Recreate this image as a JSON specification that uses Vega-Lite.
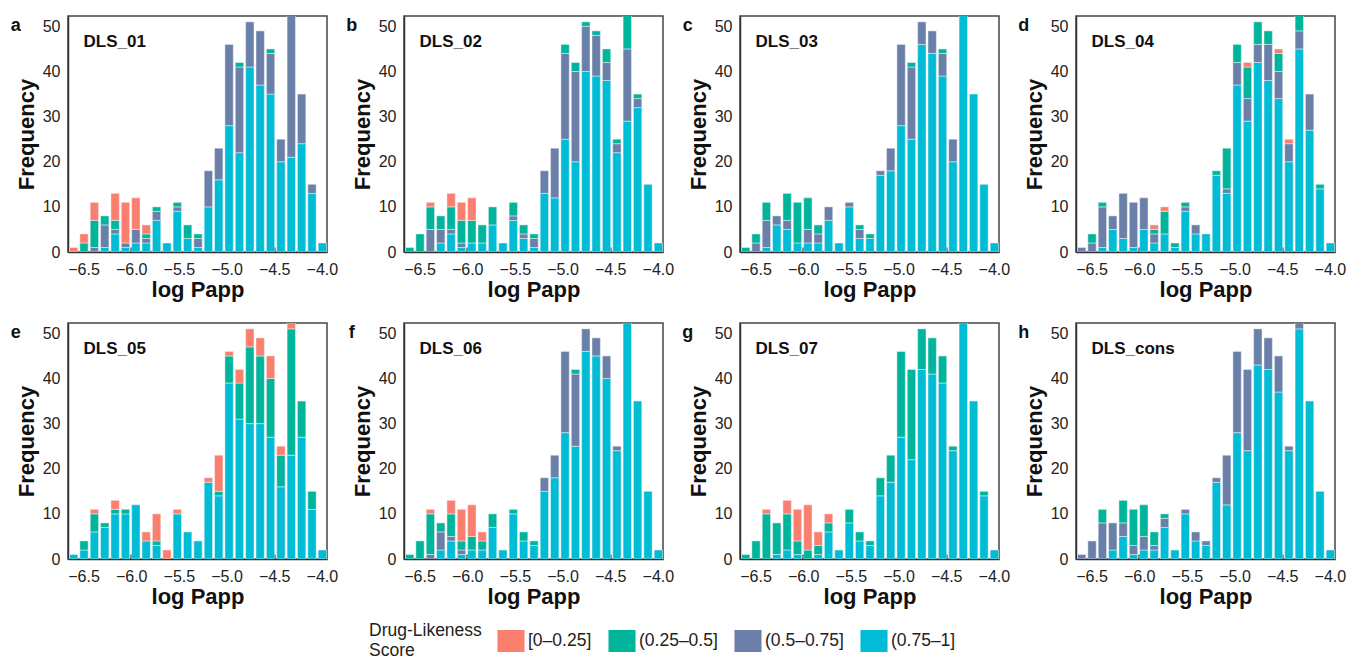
{
  "$schema": "https://vega.github.io/schema/vega-lite/v6.json",
  "padding": {"left": 10, "top": 15, "right": 5, "bottom": 5},
  "background": "white",
  "datasets": {
    "bins": [
      {"b": 1, "lo": -6.6630, "hi": -6.5543}, {"b": 2, "lo": -6.5543, "hi": -6.4457},
      {"b": 3, "lo": -6.4457, "hi": -6.3370}, {"b": 4, "lo": -6.3370, "hi": -6.2283},
      {"b": 5, "lo": -6.2283, "hi": -6.1196}, {"b": 6, "lo": -6.1196, "hi": -6.0109},
      {"b": 7, "lo": -6.0109, "hi": -5.9022}, {"b": 8, "lo": -5.9022, "hi": -5.7935},
      {"b": 9, "lo": -5.7935, "hi": -5.6848}, {"b": 10, "lo": -5.6848, "hi": -5.5761},
      {"b": 11, "lo": -5.5761, "hi": -5.4674}, {"b": 12, "lo": -5.4674, "hi": -5.3587},
      {"b": 13, "lo": -5.3587, "hi": -5.2500}, {"b": 14, "lo": -5.2500, "hi": -5.1413},
      {"b": 15, "lo": -5.1413, "hi": -5.0326}, {"b": 16, "lo": -5.0326, "hi": -4.9239},
      {"b": 17, "lo": -4.9239, "hi": -4.8152}, {"b": 18, "lo": -4.8152, "hi": -4.7065},
      {"b": 19, "lo": -4.7065, "hi": -4.5978}, {"b": 20, "lo": -4.5978, "hi": -4.4891},
      {"b": 21, "lo": -4.4891, "hi": -4.3804}, {"b": 22, "lo": -4.3804, "hi": -4.2717},
      {"b": 23, "lo": -4.2717, "hi": -4.1630}, {"b": 24, "lo": -4.1630, "hi": -4.0543},
      {"b": 25, "lo": -4.0543, "hi": -3.9457}
    ],
    "panels": [
      {"p": "DLS_01", "l": "a"}, {"p": "DLS_02", "l": "b"}, {"p": "DLS_03", "l": "c"}, {"p": "DLS_04", "l": "d"},
      {"p": "DLS_05", "l": "e"}, {"p": "DLS_06", "l": "f"}, {"p": "DLS_07", "l": "g"}, {"p": "DLS_cons", "l": "h"}
    ],
    "counts": [
      {"p": "DLS_01", "b": 1, "v4": 1},
      {"p": "DLS_01", "b": 2, "v3": 2, "v4": 2},
      {"p": "DLS_01", "b": 3, "v2": 1, "v3": 6, "v4": 4},
      {"p": "DLS_01", "b": 4, "v1": 1, "v2": 5, "v3": 2},
      {"p": "DLS_01", "b": 5, "v1": 4, "v2": 1, "v3": 2, "v4": 6},
      {"p": "DLS_01", "b": 6, "v1": 1, "v2": 1, "v4": 9},
      {"p": "DLS_01", "b": 7, "v1": 2, "v2": 3, "v4": 7},
      {"p": "DLS_01", "b": 8, "v1": 2, "v2": 1, "v3": 1, "v4": 2},
      {"p": "DLS_01", "b": 9, "v1": 7, "v2": 2, "v3": 1},
      {"p": "DLS_01", "b": 10, "v1": 2},
      {"p": "DLS_01", "b": 11, "v1": 9, "v2": 1, "v3": 1},
      {"p": "DLS_01", "b": 12, "v1": 3, "v3": 3},
      {"p": "DLS_01", "b": 13, "v1": 1, "v2": 2, "v3": 1},
      {"p": "DLS_01", "b": 14, "v1": 10, "v2": 8},
      {"p": "DLS_01", "b": 15, "v1": 16, "v2": 7},
      {"p": "DLS_01", "b": 16, "v1": 28, "v2": 18},
      {"p": "DLS_01", "b": 17, "v1": 22, "v2": 19, "v3": 1},
      {"p": "DLS_01", "b": 18, "v1": 41, "v2": 10},
      {"p": "DLS_01", "b": 19, "v1": 37, "v2": 12},
      {"p": "DLS_01", "b": 20, "v1": 35, "v2": 9, "v3": 1},
      {"p": "DLS_01", "b": 21, "v1": 20, "v2": 5},
      {"p": "DLS_01", "b": 22, "v1": 21, "v2": 32},
      {"p": "DLS_01", "b": 23, "v1": 24, "v2": 11},
      {"p": "DLS_01", "b": 24, "v1": 13, "v2": 2},
      {"p": "DLS_01", "b": 25, "v1": 2},

      {"p": "DLS_02", "b": 1, "v3": 1},
      {"p": "DLS_02", "b": 2, "v3": 4},
      {"p": "DLS_02", "b": 3, "v2": 5, "v3": 5, "v4": 1},
      {"p": "DLS_02", "b": 4, "v1": 2, "v2": 3, "v3": 3},
      {"p": "DLS_02", "b": 5, "v1": 4, "v2": 1, "v3": 5, "v4": 3},
      {"p": "DLS_02", "b": 6, "v1": 1, "v2": 1, "v3": 5, "v4": 4},
      {"p": "DLS_02", "b": 7, "v1": 2, "v3": 5, "v4": 5},
      {"p": "DLS_02", "b": 8, "v1": 2, "v3": 4},
      {"p": "DLS_02", "b": 9, "v1": 6, "v3": 4},
      {"p": "DLS_02", "b": 10, "v1": 2},
      {"p": "DLS_02", "b": 11, "v1": 7, "v2": 1, "v3": 3},
      {"p": "DLS_02", "b": 12, "v1": 3, "v2": 1, "v3": 2},
      {"p": "DLS_02", "b": 13, "v1": 1, "v2": 2, "v3": 1},
      {"p": "DLS_02", "b": 14, "v1": 13, "v2": 5},
      {"p": "DLS_02", "b": 15, "v1": 12, "v2": 11},
      {"p": "DLS_02", "b": 16, "v1": 25, "v2": 19, "v3": 2},
      {"p": "DLS_02", "b": 17, "v1": 20, "v2": 20, "v3": 2},
      {"p": "DLS_02", "b": 18, "v1": 40, "v2": 10, "v3": 1},
      {"p": "DLS_02", "b": 19, "v1": 39, "v2": 9, "v3": 1},
      {"p": "DLS_02", "b": 20, "v1": 38, "v2": 4, "v3": 3},
      {"p": "DLS_02", "b": 21, "v1": 22, "v2": 2, "v3": 1},
      {"p": "DLS_02", "b": 22, "v1": 29, "v2": 16, "v3": 8},
      {"p": "DLS_02", "b": 23, "v1": 32, "v2": 2, "v3": 1},
      {"p": "DLS_02", "b": 24, "v1": 15},
      {"p": "DLS_02", "b": 25, "v1": 2},

      {"p": "DLS_03", "b": 1, "v3": 1},
      {"p": "DLS_03", "b": 2, "v2": 2, "v3": 2},
      {"p": "DLS_03", "b": 3, "v1": 1, "v2": 6, "v3": 4},
      {"p": "DLS_03", "b": 4, "v1": 6, "v2": 2},
      {"p": "DLS_03", "b": 5, "v1": 5, "v2": 2, "v3": 6},
      {"p": "DLS_03", "b": 6, "v1": 2, "v3": 9},
      {"p": "DLS_03", "b": 7, "v1": 2, "v2": 3, "v3": 7},
      {"p": "DLS_03", "b": 8, "v1": 2, "v2": 2, "v3": 2},
      {"p": "DLS_03", "b": 9, "v1": 7, "v2": 3},
      {"p": "DLS_03", "b": 10, "v1": 2},
      {"p": "DLS_03", "b": 11, "v1": 10, "v2": 1},
      {"p": "DLS_03", "b": 12, "v1": 3, "v2": 2, "v3": 1},
      {"p": "DLS_03", "b": 13, "v1": 3, "v3": 1},
      {"p": "DLS_03", "b": 14, "v1": 17, "v2": 1},
      {"p": "DLS_03", "b": 15, "v1": 18, "v2": 5},
      {"p": "DLS_03", "b": 16, "v1": 28, "v2": 18},
      {"p": "DLS_03", "b": 17, "v1": 25, "v2": 16, "v3": 1},
      {"p": "DLS_03", "b": 18, "v1": 46, "v2": 5},
      {"p": "DLS_03", "b": 19, "v1": 44, "v2": 5},
      {"p": "DLS_03", "b": 20, "v1": 39, "v2": 5, "v3": 1},
      {"p": "DLS_03", "b": 21, "v1": 20, "v2": 5},
      {"p": "DLS_03", "b": 22, "v1": 53},
      {"p": "DLS_03", "b": 23, "v1": 35},
      {"p": "DLS_03", "b": 24, "v1": 15},
      {"p": "DLS_03", "b": 25, "v1": 2},

      {"p": "DLS_04", "b": 1, "v2": 1},
      {"p": "DLS_04", "b": 2, "v2": 2, "v3": 2},
      {"p": "DLS_04", "b": 3, "v1": 1, "v2": 9, "v3": 1},
      {"p": "DLS_04", "b": 4, "v1": 5, "v2": 3},
      {"p": "DLS_04", "b": 5, "v1": 3, "v2": 10},
      {"p": "DLS_04", "b": 6, "v1": 1, "v2": 10},
      {"p": "DLS_04", "b": 7, "v1": 5, "v2": 7},
      {"p": "DLS_04", "b": 8, "v1": 2, "v2": 2, "v3": 1, "v4": 1},
      {"p": "DLS_04", "b": 9, "v1": 4, "v3": 5, "v4": 1},
      {"p": "DLS_04", "b": 10, "v1": 1, "v3": 1},
      {"p": "DLS_04", "b": 11, "v1": 9, "v2": 1, "v3": 1},
      {"p": "DLS_04", "b": 12, "v1": 4, "v2": 2},
      {"p": "DLS_04", "b": 13, "v1": 4},
      {"p": "DLS_04", "b": 14, "v1": 17, "v3": 1},
      {"p": "DLS_04", "b": 15, "v1": 13, "v2": 1, "v3": 9},
      {"p": "DLS_04", "b": 16, "v1": 37, "v2": 5, "v3": 4},
      {"p": "DLS_04", "b": 17, "v1": 29, "v2": 5, "v3": 7, "v4": 1},
      {"p": "DLS_04", "b": 18, "v1": 42, "v2": 4, "v3": 5},
      {"p": "DLS_04", "b": 19, "v1": 38, "v2": 8, "v3": 3},
      {"p": "DLS_04", "b": 20, "v1": 34, "v2": 6, "v3": 4, "v4": 1},
      {"p": "DLS_04", "b": 21, "v1": 20, "v2": 4, "v4": 1},
      {"p": "DLS_04", "b": 22, "v1": 45, "v2": 4, "v3": 4},
      {"p": "DLS_04", "b": 23, "v1": 27, "v2": 8},
      {"p": "DLS_04", "b": 24, "v1": 14, "v3": 1},
      {"p": "DLS_04", "b": 25, "v1": 2},

      {"p": "DLS_05", "b": 1, "v1": 1},
      {"p": "DLS_05", "b": 2, "v1": 2, "v3": 2},
      {"p": "DLS_05", "b": 3, "v1": 6, "v3": 4, "v4": 1},
      {"p": "DLS_05", "b": 4, "v1": 7, "v3": 1},
      {"p": "DLS_05", "b": 5, "v1": 10, "v3": 1, "v4": 2},
      {"p": "DLS_05", "b": 6, "v1": 10, "v3": 1},
      {"p": "DLS_05", "b": 7, "v1": 12},
      {"p": "DLS_05", "b": 8, "v1": 4, "v4": 2},
      {"p": "DLS_05", "b": 9, "v1": 3, "v3": 1, "v4": 6},
      {"p": "DLS_05", "b": 10, "v4": 2},
      {"p": "DLS_05", "b": 11, "v1": 10, "v4": 1},
      {"p": "DLS_05", "b": 12, "v1": 6},
      {"p": "DLS_05", "b": 13, "v1": 4},
      {"p": "DLS_05", "b": 14, "v1": 17, "v4": 1},
      {"p": "DLS_05", "b": 15, "v1": 14, "v3": 1, "v4": 8},
      {"p": "DLS_05", "b": 16, "v1": 39, "v3": 6, "v4": 1},
      {"p": "DLS_05", "b": 17, "v1": 31, "v3": 8, "v4": 3},
      {"p": "DLS_05", "b": 18, "v1": 30, "v3": 17, "v4": 4},
      {"p": "DLS_05", "b": 19, "v1": 30, "v3": 15, "v4": 4},
      {"p": "DLS_05", "b": 20, "v1": 27, "v3": 13, "v4": 5},
      {"p": "DLS_05", "b": 21, "v1": 16, "v3": 7, "v4": 2},
      {"p": "DLS_05", "b": 22, "v1": 23, "v3": 28, "v4": 2},
      {"p": "DLS_05", "b": 23, "v1": 27, "v3": 8},
      {"p": "DLS_05", "b": 24, "v1": 11, "v3": 4},
      {"p": "DLS_05", "b": 25, "v1": 2},

      {"p": "DLS_06", "b": 1, "v3": 1},
      {"p": "DLS_06", "b": 2, "v3": 4},
      {"p": "DLS_06", "b": 3, "v2": 1, "v3": 9, "v4": 1},
      {"p": "DLS_06", "b": 4, "v1": 2, "v2": 4, "v3": 2},
      {"p": "DLS_06", "b": 5, "v1": 4, "v2": 1, "v3": 5, "v4": 3},
      {"p": "DLS_06", "b": 6, "v1": 1, "v2": 1, "v3": 2, "v4": 7},
      {"p": "DLS_06", "b": 7, "v1": 2, "v3": 3, "v4": 7},
      {"p": "DLS_06", "b": 8, "v1": 2, "v3": 2, "v4": 2},
      {"p": "DLS_06", "b": 9, "v1": 7, "v3": 3},
      {"p": "DLS_06", "b": 10, "v1": 2},
      {"p": "DLS_06", "b": 11, "v1": 10, "v3": 1},
      {"p": "DLS_06", "b": 12, "v1": 4, "v3": 2},
      {"p": "DLS_06", "b": 13, "v1": 3, "v3": 1},
      {"p": "DLS_06", "b": 14, "v1": 15, "v2": 3},
      {"p": "DLS_06", "b": 15, "v1": 18, "v2": 5},
      {"p": "DLS_06", "b": 16, "v1": 28, "v2": 18},
      {"p": "DLS_06", "b": 17, "v1": 25, "v2": 16, "v3": 1},
      {"p": "DLS_06", "b": 18, "v1": 46, "v2": 5},
      {"p": "DLS_06", "b": 19, "v1": 45, "v2": 4},
      {"p": "DLS_06", "b": 20, "v1": 40, "v2": 5},
      {"p": "DLS_06", "b": 21, "v1": 24, "v2": 1},
      {"p": "DLS_06", "b": 22, "v1": 53},
      {"p": "DLS_06", "b": 23, "v1": 35},
      {"p": "DLS_06", "b": 24, "v1": 15},
      {"p": "DLS_06", "b": 25, "v1": 2},

      {"p": "DLS_07", "b": 1, "v3": 1},
      {"p": "DLS_07", "b": 2, "v3": 4},
      {"p": "DLS_07", "b": 3, "v3": 10, "v4": 1},
      {"p": "DLS_07", "b": 4, "v1": 1, "v3": 7},
      {"p": "DLS_07", "b": 5, "v1": 2, "v3": 8, "v4": 3},
      {"p": "DLS_07", "b": 6, "v1": 1, "v3": 3, "v4": 7},
      {"p": "DLS_07", "b": 7, "v3": 2, "v4": 10},
      {"p": "DLS_07", "b": 8, "v1": 1, "v3": 2, "v4": 3},
      {"p": "DLS_07", "b": 9, "v1": 6, "v3": 2, "v4": 2},
      {"p": "DLS_07", "b": 10, "v1": 2},
      {"p": "DLS_07", "b": 11, "v1": 8, "v3": 3},
      {"p": "DLS_07", "b": 12, "v1": 4, "v3": 2},
      {"p": "DLS_07", "b": 13, "v1": 3, "v3": 1},
      {"p": "DLS_07", "b": 14, "v1": 14, "v3": 4},
      {"p": "DLS_07", "b": 15, "v1": 17, "v3": 6},
      {"p": "DLS_07", "b": 16, "v1": 27, "v3": 19},
      {"p": "DLS_07", "b": 17, "v1": 22, "v3": 20},
      {"p": "DLS_07", "b": 18, "v1": 42, "v3": 9},
      {"p": "DLS_07", "b": 19, "v1": 41, "v3": 8},
      {"p": "DLS_07", "b": 20, "v1": 39, "v3": 6},
      {"p": "DLS_07", "b": 21, "v1": 24, "v3": 1},
      {"p": "DLS_07", "b": 22, "v1": 53},
      {"p": "DLS_07", "b": 23, "v1": 35},
      {"p": "DLS_07", "b": 24, "v1": 14, "v3": 1},
      {"p": "DLS_07", "b": 25, "v1": 2},

      {"p": "DLS_cons", "b": 1, "v2": 1},
      {"p": "DLS_cons", "b": 2, "v2": 4},
      {"p": "DLS_cons", "b": 3, "v2": 8, "v3": 3},
      {"p": "DLS_cons", "b": 4, "v1": 2, "v2": 6},
      {"p": "DLS_cons", "b": 5, "v1": 5, "v2": 3, "v3": 5},
      {"p": "DLS_cons", "b": 6, "v1": 1, "v2": 2, "v3": 8},
      {"p": "DLS_cons", "b": 7, "v1": 2, "v2": 3, "v3": 7},
      {"p": "DLS_cons", "b": 8, "v1": 2, "v2": 1, "v3": 3},
      {"p": "DLS_cons", "b": 9, "v1": 7, "v2": 2, "v3": 1},
      {"p": "DLS_cons", "b": 10, "v1": 2},
      {"p": "DLS_cons", "b": 11, "v1": 10, "v2": 1},
      {"p": "DLS_cons", "b": 12, "v1": 4, "v2": 2},
      {"p": "DLS_cons", "b": 13, "v1": 3, "v2": 1},
      {"p": "DLS_cons", "b": 14, "v1": 17, "v2": 1},
      {"p": "DLS_cons", "b": 15, "v1": 12, "v2": 11},
      {"p": "DLS_cons", "b": 16, "v1": 28, "v2": 18},
      {"p": "DLS_cons", "b": 17, "v1": 24, "v2": 18},
      {"p": "DLS_cons", "b": 18, "v1": 43, "v2": 8},
      {"p": "DLS_cons", "b": 19, "v1": 42, "v2": 7},
      {"p": "DLS_cons", "b": 20, "v1": 37, "v2": 8},
      {"p": "DLS_cons", "b": 21, "v1": 24, "v2": 1},
      {"p": "DLS_cons", "b": 22, "v1": 51, "v2": 2},
      {"p": "DLS_cons", "b": 23, "v1": 35},
      {"p": "DLS_cons", "b": 24, "v1": 15},
      {"p": "DLS_cons", "b": 25, "v1": 2}
    ]
  },
  "data": {"name": "counts"},
  "transform": [
    {"lookup": "b", "from": {"data": {"name": "bins"}, "key": "b", "fields": ["lo", "hi"]}},
    {"lookup": "p", "from": {"data": {"name": "panels"}, "key": "p", "fields": ["l"]}}
  ],
  "facet": {"field": "p", "type": "nominal", "title": null,
    "header": {"labels": false, "title": null, "labelFontSize": 0, "labelPadding": 0, "labelExpr": "''"}},
  "columns": 4,
  "spacing": {"row": 71, "column": 77},
  "bounds": "flush",
  "resolve": {"axis": {"x": "independent", "y": "independent"}},
  "spec": {
    "width": 259,
    "height": 236,
    "layer": [
      {
        "transform": [
          {"fold": ["v1", "v2", "v3", "v4"], "as": ["k", "n"]},
          {"filter": "datum.n > 0"}
        ],
        "mark": {"type": "bar", "clip": true, "binSpacing": 2, "stroke": "#eef2f6", "strokeWidth": 0.5},
        "encoding": {
          "x": {
            "field": "lo", "type": "quantitative", "bin": {"binned": true},
            "scale": {"domain": [-6.663, -3.946], "nice": false, "zero": false},
            "axis": {
              "title": "log Papp", "values": [-6.5, -6, -5.5, -5, -4.5, -4], "format": ".1f",
              "tickSize": -5, "tickWidth": 2, "tickColor": "#111", "labelPadding": 14,
              "titlePadding": 2
            }
          },
          "x2": {"field": "hi"},
          "y": {
            "field": "n", "type": "quantitative", "stack": "zero",
            "scale": {"domain": [0, 52.3], "nice": false},
            "axis": {"title": "Frequency", "values": [0, 10, 20, 30, 40, 50], "ticks": false, "labelPadding": 8, "titlePadding": 4}
          },
          "color": {
            "field": "k", "type": "nominal",
            "scale": {"domain": ["v4", "v3", "v2", "v1"], "range": ["#FA7F6E", "#00B59B", "#6A80A8", "#00BCD5"]},
            "legend": {
              "title": ["Drug-Likeness", "Score"],
              "orient": "none", "legendX": 301, "legendY": 614,
              "labelExpr": "datum.label == 'v4' ? '[0–0.25]' : datum.label == 'v3' ? '(0.25–0.5]' : datum.label == 'v2' ? '(0.5–0.75]' : '(0.75–1]'"
            }
          },
          "order": {"field": "k", "sort": "ascending"}
        }
      },
      {
        "transform": [{"aggregate": [{"op": "count", "as": "cnt"}], "groupby": ["p", "l"]}],
        "mark": {"type": "text", "align": "left", "baseline": "middle", "fontWeight": "bold", "fontSize": 17, "font": "Liberation Sans", "color": "#111"},
        "encoding": {
          "x": {"datum": -6.5, "type": "quantitative"},
          "y": {"datum": 46.5, "type": "quantitative"},
          "text": {"field": "p"}
        }
      },
      {
        "transform": [{"aggregate": [{"op": "count", "as": "cnt"}], "groupby": ["p", "l"]}],
        "mark": {"type": "text", "align": "center", "baseline": "middle", "fontWeight": "bold", "fontSize": 18, "font": "Liberation Sans", "color": "#111"},
        "encoding": {
          "x": {"datum": -7.21, "type": "quantitative"},
          "y": {"datum": 50, "type": "quantitative"},
          "text": {"field": "l"}
        }
      }
    ]
  },
  "config": {
    "font": "Liberation Sans",
    "view": {"stroke": "#444", "strokeWidth": 1.5},
    "header": {"labels": false, "title": null, "labelFontSize": 0, "labelPadding": 0},
    "headerFacet": {"labels": false, "title": null, "labelFontSize": 0, "labelPadding": 0},
    "axis": {
      "grid": false, "domainColor": "#333", "domainWidth": 1.5,
      "labelFont": "Liberation Sans", "labelFontSize": 16, "labelColor": "#222",
      "titleFont": "Liberation Sans", "titleFontSize": 22, "titleFontWeight": "bold", "titleColor": "#111"
    },
    "legend": {
      "direction": "horizontal", "titleOrient": "left",
      "titleFont": "Liberation Sans", "titleFontSize": 17.5, "titleFontWeight": "normal", "titleColor": "#222",
      "titlePadding": 18, "labelFont": "Liberation Sans", "labelFontSize": 17.5, "labelColor": "#222",
      "symbolType": "M-1.23,-1H1.23V1H-1.23Z", "symbolSize": 484, "symbolStrokeWidth": 0, "symbolOpacity": 1,
      "columnPadding": 16, "labelOffset": 6
    }
  }
}
